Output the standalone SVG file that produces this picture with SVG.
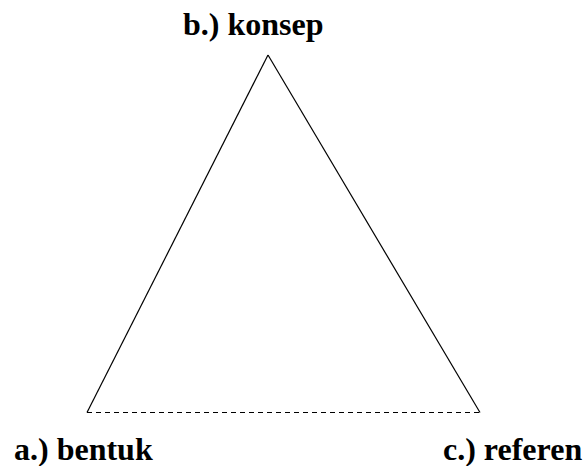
<svg xmlns="http://www.w3.org/2000/svg" width="586" height="466" viewBox="0 0 586 466">
  <style>
    .label { font-weight: bold; font-size: 32px; fill: #000; }
    .side { stroke: #000; stroke-width: 1.2; fill: none; }
    .dashed { stroke: #000; stroke-width: 1.2; fill: none; stroke-dasharray: 5 4; }
  </style>
  <rect width="586" height="466" fill="#fff"/>
  <g id="connectors">
    <line class="side" x1="268" y1="55" x2="87" y2="412.5"/>
    <line class="side" x1="268" y1="55" x2="480" y2="412.5"/>
    <line class="dashed" x1="87" y1="412.5" x2="480" y2="412.5"/>
  </g>
  <g id="konsep">
    <text class="label" font-family="Liberation Serif, Times New Roman, serif" x="183" y="35">b.) konsep</text>
  </g>
  <g id="bentuk">
    <text class="label" font-family="Liberation Serif, Times New Roman, serif" x="14" y="460">a.) bentuk</text>
  </g>
  <g id="referen">
    <text class="label" font-family="Liberation Serif, Times New Roman, serif" x="443" y="460">c.) referen</text>
  </g>
</svg>
